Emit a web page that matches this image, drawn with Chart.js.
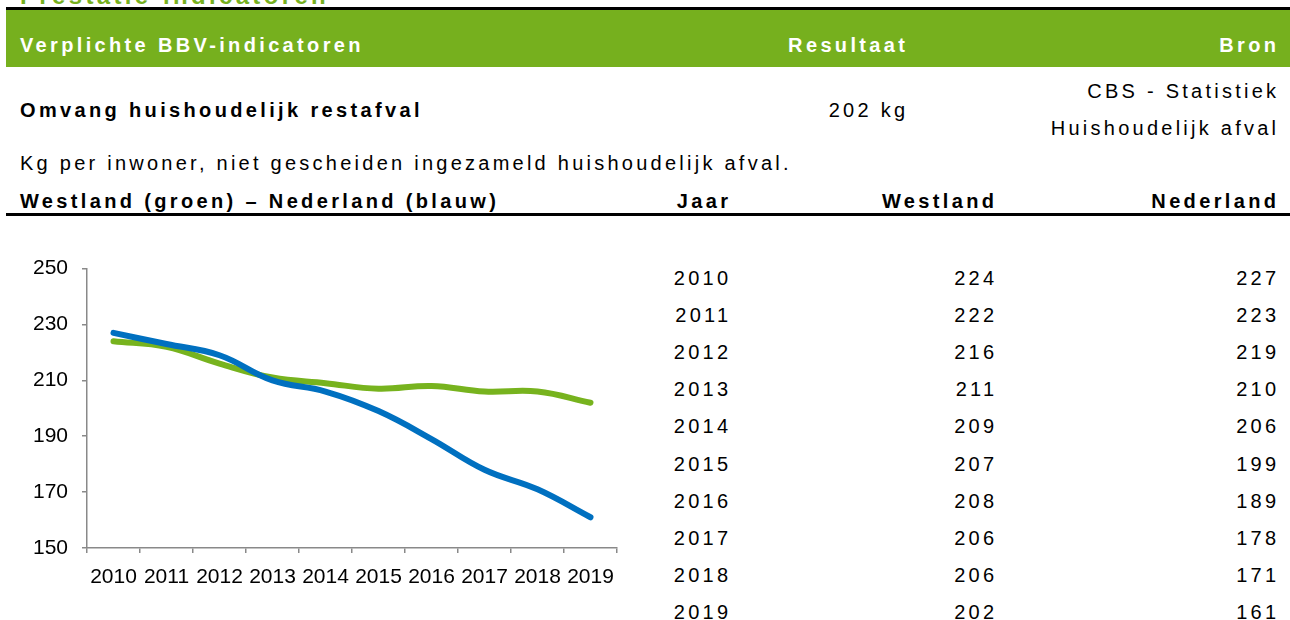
<!DOCTYPE html>
<html>
<head>
<meta charset="utf-8">
<script src="https://cdn.jsdelivr.net/npm/chart.js@4/dist/chart.umd.min.js"></script>
<style>
  html, body { margin: 0; padding: 0; background: #fff; }
  body { width: 1290px; height: 620px; position: relative; overflow: hidden;
         font-family: "Liberation Sans", Arial, sans-serif; color: #000; }
  .t { position: absolute; font-size: 20px; line-height: 22px; letter-spacing: 3.25px; white-space: nowrap; }
  .b { font-weight: bold; letter-spacing: 3.35px; }
  .r { text-align: right; margin-right: -3.3px; }
  .bar { position: absolute; left: 6px; right: 0; }
  #chartBox { position: absolute; left: 0; top: 242px; width: 640px; height: 358px; }
</style>
</head>
<body>
<div class="t b" style="left:20px; top:-16px; font-size:24px; line-height:24px; color:#76B01E;">Prestatie-indicatoren</div>
<div class="bar" style="top:7px; height:3px; background:#000;"></div>
<div class="bar" style="top:10px; height:57px; background:#76B01E;"></div>
<div class="t b" style="left:20px; top:34px; color:#fff;">Verplichte BBV-indicatoren</div>
<div class="t b r" style="right:385px; top:34px; color:#fff;">Resultaat</div>
<div class="t b r" style="right:14px; top:34px; color:#fff;">Bron</div>

<div class="t b" style="left:20px; top:99px;">Omvang huishoudelijk restafval</div>
<div class="t r" style="right:385px; top:99px;">202 kg</div>
<div class="t r" style="right:14px; top:80px;">CBS - Statistiek</div>
<div class="t r" style="right:14px; top:117px;">Huishoudelijk afval</div>

<div class="t" style="left:20px; top:152px;">Kg per inwoner, niet gescheiden ingezameld huishoudelijk afval.</div>
<div class="t b" style="left:20px; top:190px;">Westland (groen) – Nederland (blauw)</div>
<div class="t b r" style="right:562px; top:190px;">Jaar</div>
<div class="t b r" style="right:296px; top:190px;">Westland</div>
<div class="t b r" style="right:14px; top:190px;">Nederland</div>
<div class="bar" style="top:213px; height:3px; background:#000;"></div>

<div id="table"></div>

<div id="chartBox"><canvas id="c" width="640" height="358"></canvas></div>

<script>
const years = ["2010","2011","2012","2013","2014","2015","2016","2017","2018","2019"];
const westland = [224, 222, 216, 211, 209, 207, 208, 206, 206, 202];
const nederland = [227, 223, 219, 210, 206, 199, 189, 178, 171, 161];
const yTicks = { min: 150, max: 250, step: 20 };

// table at right
const tbl = document.getElementById('table');
years.forEach((y, i) => {
  const top = 267 + i * 37.1;
  const cells = [[y, 562], [String(westland[i]), 296], [String(nederland[i]), 14]];
  cells.forEach(([txt, right]) => {
    const d = document.createElement('div');
    d.className = 't r';
    d.style.right = right + 'px';
    d.style.top = top + 'px';
    d.textContent = txt;
    tbl.appendChild(d);
  });
});

const axisColor = '#898989';
const fontFam = '"Liberation Sans", Arial, sans-serif';
new Chart(document.getElementById('c'), {
  type: 'line',
  data: {
    labels: years,
    datasets: [
      { label: 'Nederland', data: nederland, borderColor: '#0070C0', borderWidth: 6,
        pointRadius: 0, tension: 0.4, borderCapStyle: 'round', borderJoinStyle: 'round', fill: false },
      { label: 'Westland', data: westland, borderColor: '#77B31E', borderWidth: 6,
        pointRadius: 0, tension: 0.4, borderCapStyle: 'round', borderJoinStyle: 'round', fill: false }
    ]
  },
  options: {
    responsive: false,
    devicePixelRatio: 1,
    animation: false,
    layout: { padding: { top: 10, right: 23, left: 0, bottom: 0 } },
    plugins: { legend: { display: false }, tooltip: { enabled: false } },
    scales: {
      x: {
        type: 'category',
        offset: true,
        afterFit: (s) => { s.height = 52; },
        grid: { display: true, drawOnChartArea: false, offset: true, tickLength: 5, color: axisColor, lineWidth: 1.5 },
        border: { display: true, color: axisColor, width: 1.5 },
        ticks: { color: '#000', padding: 12, maxRotation: 0, autoSkip: false,
                 font: { family: fontFam, size: 21 } }
      },
      y: {
        min: yTicks.min, max: yTicks.max,
        afterFit: (s) => { s.width = 87; },
        grid: { display: true, drawOnChartArea: false, tickLength: 5, color: axisColor, lineWidth: 1.5 },
        border: { display: true, color: axisColor, width: 1.5 },
        ticks: { stepSize: yTicks.step, color: '#000', padding: 14,
                 font: { family: fontFam, size: 21 } }
      }
    }
  }
});
</script>
</body>
</html>
